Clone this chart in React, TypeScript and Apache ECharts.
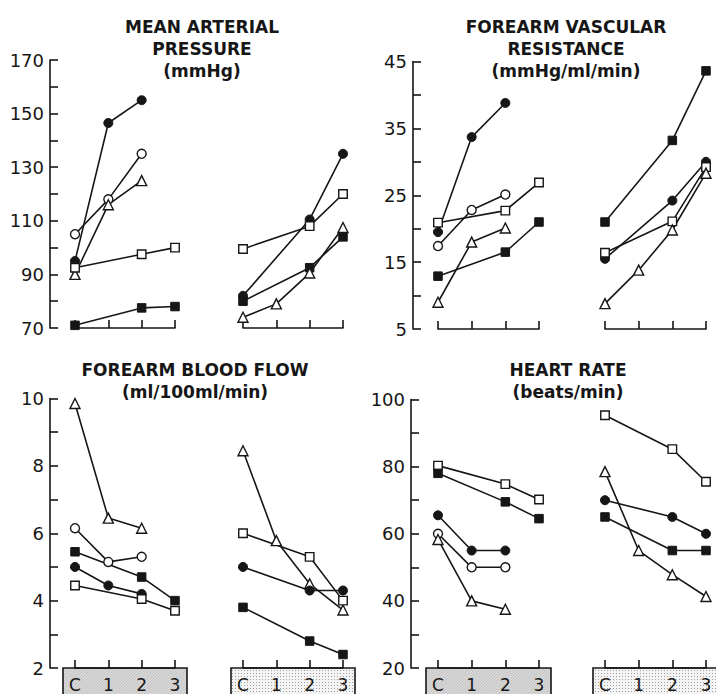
import React, { useEffect, useRef } from 'react';
import * as echarts from 'echarts';

const STAGES = ['C', '1', '2', '3'];

// Mean arterial pressure (mmHg)
const MAP_TICK_LABELS = [70, 90, 110, 130, 150, 170];
const MAP_A_FILLED_CIRCLE = [95, 146.5, 155, null];
const MAP_A_OPEN_CIRCLE = [105, 118, 135, null];
const MAP_A_TRIANGLE = [90, 116, 125, null];
const MAP_A_OPEN_SQUARE = [92.5, null, 97.5, 100];
const MAP_A_FILLED_SQUARE = [71, null, 77.5, 78];
const MAP_B_FILLED_CIRCLE = [82, null, 110.5, 135];
const MAP_B_OPEN_SQUARE = [99.5, null, 108, 120];
const MAP_B_FILLED_SQUARE = [80, null, 92.5, 104];
const MAP_B_TRIANGLE = [74, 79, 90.5, 107.5];

// Forearm vascular resistance (mmHg/ml/min)
const FVR_TICK_LABELS = [5, 15, 25, 35, 45];
const FVR_A_FILLED_CIRCLE = [19.5, 33.7, 38.8, null];
const FVR_A_OPEN_CIRCLE = [17.4, 22.8, 25.1, null];
const FVR_A_OPEN_SQUARE = [20.9, null, 22.7, 26.9];
const FVR_A_TRIANGLE = [9, 18, 20.1, null];
const FVR_A_FILLED_SQUARE = [12.9, null, 16.5, 21];
const FVR_B_FILLED_SQUARE = [21, null, 33.2, 43.6];
const FVR_B_FILLED_CIRCLE = [15.5, null, 24.2, 30];
const FVR_B_OPEN_SQUARE = [16.4, null, 21.1, 29.2];
const FVR_B_TRIANGLE = [8.8, 13.8, 19.8, 28.3];

// Forearm blood flow (ml/100ml/min)
const FBF_TICK_LABELS = [2, 4, 6, 8, 10];
const FBF_A_TRIANGLE = [9.85, 6.45, 6.15, null];
const FBF_A_OPEN_CIRCLE = [6.15, 5.15, 5.3, null];
const FBF_A_FILLED_SQUARE = [5.45, null, 4.7, 4.0];
const FBF_A_FILLED_CIRCLE = [5.0, 4.45, 4.2, null];
const FBF_A_OPEN_SQUARE = [4.45, null, 4.05, 3.7];
const FBF_B_TRIANGLE = [8.45, 5.78, 4.5, 3.72];
const FBF_B_OPEN_SQUARE = [6.0, null, 5.3, 4.0];
const FBF_B_FILLED_CIRCLE = [5.0, null, 4.3, 4.3];
const FBF_B_FILLED_SQUARE = [3.8, null, 2.8, 2.4];

// Heart rate (beats/min)
const HR_TICK_LABELS = [20, 40, 60, 80, 100];
const HR_A_OPEN_SQUARE = [80.3, null, 74.8, 70.2];
const HR_A_FILLED_SQUARE = [78, null, 69.5, 64.5];
const HR_A_FILLED_CIRCLE = [65.5, 55, 55, null];
const HR_A_OPEN_CIRCLE = [60, 50, 50, null];
const HR_A_TRIANGLE = [58.3, 40, 37.5, null];
const HR_B_OPEN_SQUARE = [95.3, null, 85.2, 75.5];
const HR_B_TRIANGLE = [78.5, 55, 47.8, 41.3];
const HR_B_FILLED_CIRCLE = [70, null, 65, 60];
const HR_B_FILLED_SQUARE = [65, null, 55, 55];

const INK = '#161616';
const FONT = 'DejaVu Sans';

type Mark = 'fc' | 'oc' | 'fs' | 'os' | 'tr';

const PANELS = [
  {
    title: 'MEAN ARTERIAL\nPRESSURE\n(mmHg)', titleX: 197, titleY: 11,
    top: 60, bottom: 328, axisX: 50, groupX: [75, 243], groupW: 100,
    min: 70, max: 170, interval: 10, labels: MAP_TICK_LABELS, bottomRow: false,
    groups: [
      [[MAP_A_FILLED_CIRCLE, 'fc'], [MAP_A_OPEN_CIRCLE, 'oc'], [MAP_A_TRIANGLE, 'tr'], [MAP_A_OPEN_SQUARE, 'os'], [MAP_A_FILLED_SQUARE, 'fs']],
      [[MAP_B_FILLED_CIRCLE, 'fc'], [MAP_B_OPEN_SQUARE, 'os'], [MAP_B_FILLED_SQUARE, 'fs'], [MAP_B_TRIANGLE, 'tr']],
    ],
  },
  {
    title: 'FOREARM VASCULAR\nRESISTANCE\n(mmHg/ml/min)', titleX: 561, titleY: 11,
    top: 61.5, bottom: 329, axisX: 413, groupX: [438, 605], groupW: 101,
    min: 5, max: 45, interval: 5, labels: FVR_TICK_LABELS, bottomRow: false,
    groups: [
      [[FVR_A_FILLED_CIRCLE, 'fc'], [FVR_A_OPEN_CIRCLE, 'oc'], [FVR_A_OPEN_SQUARE, 'os'], [FVR_A_TRIANGLE, 'tr'], [FVR_A_FILLED_SQUARE, 'fs']],
      [[FVR_B_FILLED_SQUARE, 'fs'], [FVR_B_FILLED_CIRCLE, 'fc'], [FVR_B_OPEN_SQUARE, 'os'], [FVR_B_TRIANGLE, 'tr']],
    ],
  },
  {
    title: 'FOREARM BLOOD FLOW\n(ml/100ml/min)', titleX: 190, titleY: 354,
    top: 398.5, bottom: 668, axisX: 50, groupX: [75, 243], groupW: 100,
    min: 2, max: 10, interval: 1, labels: FBF_TICK_LABELS, bottomRow: true,
    groups: [
      [[FBF_A_TRIANGLE, 'tr'], [FBF_A_OPEN_CIRCLE, 'oc'], [FBF_A_FILLED_SQUARE, 'fs'], [FBF_A_FILLED_CIRCLE, 'fc'], [FBF_A_OPEN_SQUARE, 'os']],
      [[FBF_B_TRIANGLE, 'tr'], [FBF_B_OPEN_SQUARE, 'os'], [FBF_B_FILLED_CIRCLE, 'fc'], [FBF_B_FILLED_SQUARE, 'fs']],
    ],
  },
  {
    title: 'HEART RATE\n(beats/min)', titleX: 563, titleY: 354,
    top: 399.5, bottom: 668, axisX: 411, groupX: [438, 605], groupW: 101,
    min: 20, max: 100, interval: 10, labels: HR_TICK_LABELS, bottomRow: true,
    groups: [
      [[HR_A_OPEN_SQUARE, 'os'], [HR_A_FILLED_SQUARE, 'fs'], [HR_A_FILLED_CIRCLE, 'fc'], [HR_A_OPEN_CIRCLE, 'oc'], [HR_A_TRIANGLE, 'tr']],
      [[HR_B_OPEN_SQUARE, 'os'], [HR_B_TRIANGLE, 'tr'], [HR_B_FILLED_CIRCLE, 'fc'], [HR_B_FILLED_SQUARE, 'fs']],
    ],
  },
];

function makePattern(kind: 'fine' | 'dots') {
  const c = document.createElement('canvas');
  c.width = 3;
  c.height = 3;
  const ctx = c.getContext('2d')!;
  if (kind === 'fine') {
    ctx.fillStyle = '#d8d8d8';
    ctx.fillRect(0, 0, 3, 3);
    ctx.fillStyle = '#c2c2c2';
    ctx.fillRect(0, 0, 1, 1);
    ctx.fillRect(2, 1, 1, 1);
    ctx.fillRect(1, 2, 1, 1);
  } else {
    ctx.fillStyle = '#f4f4f4';
    ctx.fillRect(0, 0, 3, 3);
    ctx.fillStyle = '#a0a0a0';
    ctx.fillRect(1, 1, 1, 1);
  }
  return { image: c, repeat: 'repeat' };
}

function markStyle(m: Mark) {
  const symbol = m === 'fc' || m === 'oc' ? 'circle' : m === 'tr' ? 'triangle' : 'rect';
  const filled = m === 'fc' || m === 'fs';
  return {
    symbol,
    symbolSize: m === 'tr' ? 10 : m === 'fs' || m === 'os' ? 8.5 : 9,
    itemStyle: filled
      ? { color: INK, borderColor: INK, borderWidth: 1 }
      : { color: '#ffffff', borderColor: INK, borderWidth: 1.4 },
  };
}

export default function App() {
  const ref = useRef<HTMLDivElement>(null);

  useEffect(() => {
    if (!ref.current) return;
    const chart = echarts.init(ref.current, undefined, { renderer: 'svg' });

    const grid: any[] = [];
    const xAxis: any[] = [];
    const yAxis: any[] = [];
    const series: any[] = [];
    const title: any[] = [];
    const graphic: any[] = [];

    PANELS.forEach((p) => {
      title.push({
        text: p.title,
        left: p.titleX,
        top: p.titleY,
        textAlign: 'center',
        textStyle: {
          fontFamily: FONT,
          fontSize: 17,
          fontWeight: 'bold',
          color: INK,
          lineHeight: 22,
        },
      });

      // Grid that only carries the panel's value axis
      const ai = grid.length;
      grid.push({ left: p.axisX, top: p.top, width: 10, height: p.bottom - p.top, containLabel: false });
      xAxis.push({ type: 'value', gridIndex: ai, min: 0, max: 1, show: false });
      yAxis.push({
        type: 'value',
        gridIndex: ai,
        min: p.min,
        max: p.max,
        interval: p.interval,
        position: 'left',
        axisLine: { show: true, onZero: false, lineStyle: { color: INK, width: 1.6 } },
        axisTick: { show: true, inside: true, length: 8, lineStyle: { color: INK, width: 1.6 } },
        axisLabel: {
          margin: 6,
          fontFamily: FONT,
          fontSize: 18,
          color: INK,
          formatter: (v: number) => (p.labels.includes(v) ? String(v) : ''),
        },
        splitLine: { show: false },
      });

      p.groups.forEach((grp, gi) => {
        const idx = grid.length;
        const gx = p.groupX[gi];
        grid.push({ left: gx, top: p.top, width: p.groupW, height: p.bottom - p.top, containLabel: false });
        xAxis.push({
          type: 'value',
          gridIndex: idx,
          min: 0,
          max: 3,
          interval: 1,
          axisLine: { show: true, onZero: false, lineStyle: { color: INK, width: 1.6 } },
          axisTick: { show: true, inside: true, length: 8, lineStyle: { color: INK, width: 1.6 } },
          axisLabel: {
            show: p.bottomRow,
            margin: 8,
            fontFamily: FONT,
            fontSize: 17,
            color: INK,
            formatter: (v: number) => STAGES[Math.round(v)] ?? '',
          },
          splitLine: { show: false },
        });
        yAxis.push({
          type: 'value',
          gridIndex: idx,
          min: p.min,
          max: p.max,
          interval: p.interval,
          show: false,
        });
        grp.forEach(([vals, m]: any) => {
          const st = markStyle(m as Mark);
          series.push({
            type: 'line',
            xAxisIndex: idx,
            yAxisIndex: idx,
            data: (vals as (number | null)[])
              .map((v, i) => [i, v])
              .filter((d) => d[1] !== null),
            symbol: st.symbol,
            symbolSize: st.symbolSize,
            showAllSymbol: true,
            itemStyle: st.itemStyle,
            lineStyle: { color: INK, width: 1.6 },
            z: 3,
          });
        });
        if (p.bottomRow) {
          graphic.push({
            type: 'rect',
            z: -1,
            shape: { x: gx - 12, y: p.bottom, width: p.groupW + 24, height: 40 },
            style: { fill: makePattern(gi === 0 ? 'fine' : 'dots'), stroke: INK, lineWidth: 1.6 },
          });
        }
      });
    });

    chart.setOption({
      animation: false,
      backgroundColor: '#ffffff',
      title,
      grid,
      xAxis,
      yAxis,
      series,
      graphic,
    });
    return () => chart.dispose();
  }, []);

  return (
    <div
      ref={ref}
      style={{ position: 'fixed', left: 0, top: 0, width: 716, height: 694 }}
    />
  );
}
